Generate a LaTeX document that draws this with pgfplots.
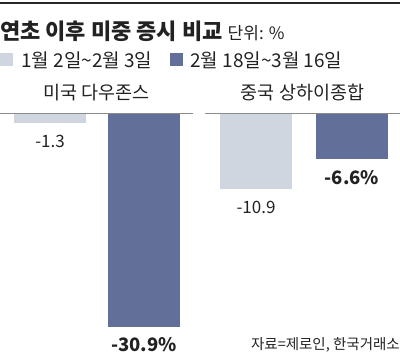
\documentclass[border=0pt]{standalone}
\usepackage{pgfplots}
\pgfplotsset{compat=1.18}
\usepackage{fontspec}
\setmainfont{Noto Sans CJK KR}
\definecolor{lightbar}{RGB}{208,214,224}
\definecolor{darkbar}{RGB}{98,111,152}
\definecolor{basegray}{RGB}{140,140,140}
\definecolor{txt}{RGB}{34,34,34}
\pgfplotsset{
  panel/.style={
    scale only axis, width=193pt, height=213.6pt,
    ymin=-31, ymax=0, clip=false,
    axis x line=top, axis y line=none,
    xtick=\empty, ytick=\empty,
    x axis line style={-, draw=basegray, line width=1pt},
    ybar, bar width=72pt,
    title style={at={(0.5,1)}, anchor=center, yshift=15pt, font=\fontsize{18.5}{18.5}\selectfont, text=txt},
  },
  lbl/.style={nodes near coords, point meta=explicit symbolic,
    nodes near coords style={font=\fontsize{17}{17}\selectfont, text=txt, anchor=center, yshift=-18pt}},
  blbl/.style={nodes near coords, point meta=explicit symbolic,
    nodes near coords style={font=\bfseries\fontsize{18.5}{18.5}\selectfont, text=txt, anchor=center, yshift=-18pt}},
}
\begin{document}
\begin{tikzpicture}[x=1pt,y=1pt]
\path[use as bounding box] (0,0) rectangle (400,356);
\draw[line width=1.5pt, black!85] (0,353) -- (400,353);
\node[anchor=west, inner sep=0, text=txt] at (0,325) {{\bfseries\fontsize{22}{22}\selectfont 연초 이후 미중 증시 비교}\hspace{5pt}{\fontsize{17}{17}\selectfont 단위: \%}};
\fill[lightbar] (0,290) rectangle (13,303);
\node[anchor=west, inner sep=0, text=txt, font=\fontsize{19}{19}\selectfont] at (21,296) {1월 2일\textasciitilde 2월 3일};
\fill[darkbar] (170,290) rectangle (183,303);
\node[anchor=west, inner sep=0, text=txt, font=\fontsize{19}{19}\selectfont] at (190,296) {2월 18일\textasciitilde 3월 16일};

\begin{axis}[panel, at={(0pt,242pt)}, anchor=north west, xmin=0, xmax=193, title={미국 다우존스}]
\addplot[fill=lightbar, draw=none, bar shift=0pt, lbl] coordinates {(50,-1.3) [-1.3]};
\addplot[fill=darkbar, draw=none, bar shift=0pt, blbl] coordinates {(144,-30.9) [-30.9\%]};
\end{axis}

\begin{axis}[panel, width=195pt, at={(205pt,242pt)}, anchor=north west, xmin=205, xmax=400, title={중국 상하이종합}]
\addplot[fill=lightbar, draw=none, bar shift=0pt, lbl] coordinates {(256,-10.9) [-10.9]};
\addplot[fill=darkbar, draw=none, bar shift=0pt, blbl] coordinates {(352,-6.6) [-6.6\%]};
\end{axis}

\node[anchor=east, inner sep=0, text=txt, font=\fontsize{14.5}{14.5}\selectfont] at (400,11) {자료=제로인, 한국거래소};
\end{tikzpicture}
\end{document}
